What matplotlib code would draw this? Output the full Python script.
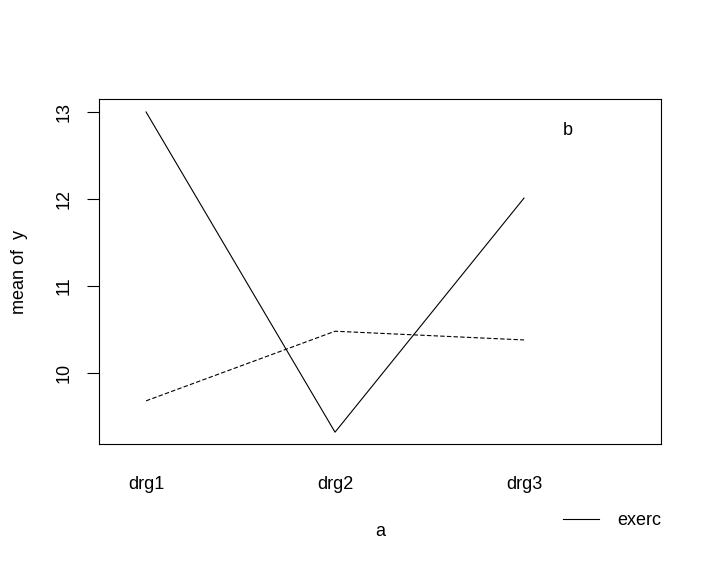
import matplotlib
matplotlib.use("Agg")
import matplotlib.pyplot as plt

plt.rcParams["font.family"] = ["Liberation Sans", "DejaVu Sans"]

# factor a levels and mean of y per trace level
levels_a = ["drg1", "drg2", "drg3"]
mean_solid = [13.00, 9.32, 12.01]
mean_dashed = [9.68, 10.48, 10.38]
trace_title = "b"
trace_label = "exerc"

fs = 13
fig = plt.figure(figsize=(7.12, 5.68), dpi=100)
ax = fig.add_axes([99 / 712, 1 - 444 / 568, (661 - 99) / 712, (444 - 99) / 568])

x = [1, 2, 3]
ax.plot(x, mean_solid, color="black", lw=0.8, ls="-")
ax.plot(x, mean_dashed, color="black", lw=0.8, ls=(0, (4, 2)))

ax.set_xlim(0.751, 3.725)
ax.set_ylim(9.184, 13.149)

ax.set_xticks(x)
ax.set_xticklabels(levels_a, fontsize=fs)
ax.tick_params(axis="x", length=0, pad=23)
ax.set_yticks([10, 11, 12, 13])
ax.set_yticklabels(["10", "11", "12", "13"], fontsize=fs, rotation=90, va="center")
ax.tick_params(axis="y", length=9, width=0.8, pad=10)

for s in ax.spines.values():
    s.set_linewidth(0.8)

ax.set_xlabel("a", fontsize=fs, labelpad=22)
ax.set_ylabel("mean of  y", fontsize=fs, labelpad=20)

# legend drawn outside the box like R interaction.plot
ax.text(3.206, 12.79, trace_title, fontsize=fs, va="center", ha="left")
ax.plot([3.206, 3.397], [8.322, 8.322], color="black", lw=0.8, clip_on=False)
ax.text(3.492, 8.30, trace_label, fontsize=fs, va="center", ha="left")

fig.savefig("out.png", dpi=100)
